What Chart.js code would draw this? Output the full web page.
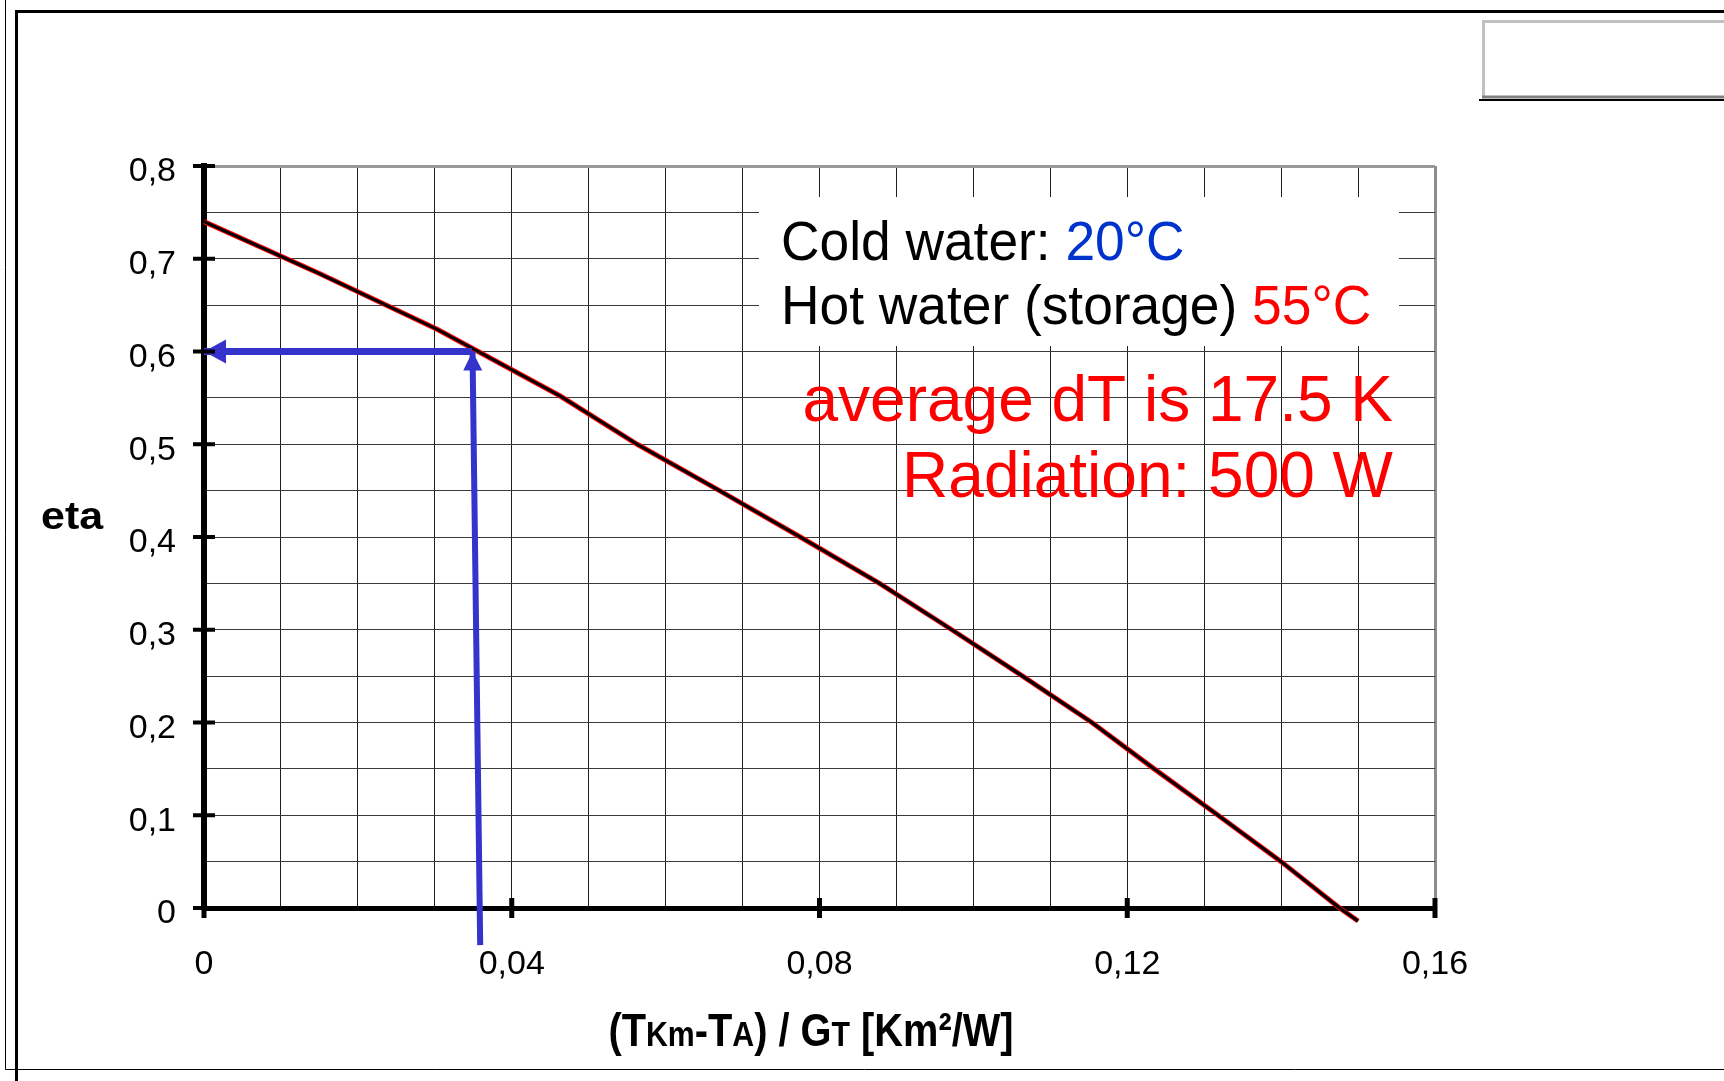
<!DOCTYPE html>
<html>
<head>
<meta charset="utf-8">
<title>eta</title>
<script src="https://cdn.jsdelivr.net/npm/chart.js@4.4.1/dist/chart.umd.min.js"></script>
<style>
    html, body { margin: 0; padding: 0; background: #fff; }
    canvas { display: block; }
</style>
</head>
<body>
<canvas id="etaChart" width="1724" height="1081" style="width:1724px;height:1081px"></canvas>
<script>
// tick labels (comma decimals as in the original)
const xTickLabels = ['0', '0,04', '0,08', '0,12', '0,16'];
const yTickLabels = ['0', '0,1', '0,2', '0,3', '0,4', '0,5', '0,6', '0,7', '0,8'];

// efficiency curve
const curveX   = [0, 0.015, 0.0303, 0.0463, 0.0563, 0.067, 0.0775, 0.0878, 0.0972, 0.1064, 0.1154, 0.1235, 0.1318, 0.14, 0.1476, 0.15];
const curveEta = [0.74, 0.684, 0.624, 0.552, 0.5, 0.45, 0.4, 0.35, 0.3, 0.25, 0.2, 0.15, 0.1, 0.05, 0, -0.014];

// blue reading arrows
const arrowUpX   = [0.0359, 0.0349];
const arrowUpY   = [-0.04, 0.6];
const arrowLeftX = [0.0348, 0];
const arrowLeftY = [0.6, 0.6];

const toPoints = (xs, ys) => xs.map((x, i) => ({ x: x, y: ys[i] }));

const BLUE = '#3434cc';

// draws a row of text pieces with different fonts / colours
function drawRuns(ctx, runs, x, y, align, scaleX) {
    ctx.save();
    let total = 0;
    runs.forEach(r => {
        ctx.font = r.font;
        r.w = ctx.measureText(r.text).width;
        total += r.w;
    });
    let start = x;
    if (align === 'right') start = x - total * scaleX;
    if (align === 'center') start = x - total * scaleX / 2;
    ctx.translate(start, y);
    ctx.scale(scaleX, 1);
    ctx.textBaseline = 'alphabetic';
    let cx = 0;
    runs.forEach(r => {
        ctx.font = r.font;
        ctx.fillStyle = r.color;
        ctx.fillText(r.text, cx, 0);
        cx += r.w;
    });
    ctx.restore();
}

// page frame and the half hidden box top right
const framePlugin = {
    id: 'frame',
    beforeDraw(chart) {
        const ctx = chart.ctx;
        ctx.save();
        ctx.fillStyle = '#fff';
        ctx.fillRect(0, 0, chart.width, chart.height);
        ctx.strokeStyle = '#000';
        ctx.lineWidth = 1;
        ctx.beginPath();
        ctx.moveTo(5.5, 0); ctx.lineTo(5.5, 1069.5); ctx.lineTo(chart.width, 1069.5);
        ctx.stroke();
        ctx.lineWidth = 3;
        ctx.beginPath();
        ctx.moveTo(16.5, 1081); ctx.lineTo(16.5, 11.5); ctx.lineTo(chart.width, 11.5);
        ctx.stroke();
        // box
        ctx.strokeStyle = '#c0c0c0';
        ctx.beginPath();
        ctx.moveTo(1483.5, 97); ctx.lineTo(1483.5, 21.5); ctx.lineTo(chart.width, 21.5);
        ctx.stroke();
        ctx.strokeStyle = '#808080';
        ctx.beginPath();
        ctx.moveTo(1482, 97); ctx.lineTo(chart.width, 97);
        ctx.stroke();
        ctx.strokeStyle = '#000';
        ctx.lineWidth = 2;
        ctx.beginPath();
        ctx.moveTo(1479, 100); ctx.lineTo(chart.width, 100);
        ctx.stroke();
        ctx.restore();
    }
};

// white note box, notes and axis titles
const notesPlugin = {
    id: 'notes',
    beforeDatasetsDraw(chart) {
        const ctx = chart.ctx;
        ctx.save();
        ctx.fillStyle = '#fff';
        ctx.fillRect(759, 197, 640, 149);
        ctx.restore();

        const black = '56px "Liberation Sans", Arial, sans-serif';
        drawRuns(ctx, [
            { text: 'Cold water: ', font: black, color: '#000' },
            { text: '20°C', font: black, color: '#0033cc' }
        ], 781, 260, 'left', 0.952);
        drawRuns(ctx, [
            { text: 'Hot water (storage) ', font: black, color: '#000' },
            { text: '55°C', font: black, color: '#ff0000' }
        ], 781, 324, 'left', 0.952);

        const red = '64px "Liberation Sans", Arial, sans-serif';
        drawRuns(ctx, [{ text: 'average dT is 17.5 K', font: red, color: '#ff0000' }], 1393, 421, 'right', 1);
        drawRuns(ctx, [{ text: 'Radiation: 500 W', font: red, color: '#ff0000' }], 1393, 497, 'right', 1);

        // axis titles
        drawRuns(ctx, [{ text: 'eta', font: 'bold 38px "Liberation Sans", Arial, sans-serif', color: '#000' }], 41, 529, 'left', 1.13);

        const big = 'bold 46px "Liberation Sans", Arial, sans-serif';
        const small = 'bold 35px "Liberation Sans", Arial, sans-serif';
        drawRuns(ctx, [
            { text: '(T', font: big, color: '#000' },
            { text: 'Km', font: small, color: '#000' },
            { text: '-T', font: big, color: '#000' },
            { text: 'A', font: small, color: '#000' },
            { text: ') / G', font: big, color: '#000' },
            { text: 'T', font: small, color: '#000' },
            { text: ' [Km²/W]', font: big, color: '#000' }
        ], 811, 1046, 'center', 0.865);
    },
    afterDraw(chart) {
        const ctx = chart.ctx;
        const xs = chart.scales.x, ys = chart.scales.y;
        const left = chart.chartArea.left, bottom = chart.chartArea.bottom;
        ctx.save();
        ctx.strokeStyle = '#000';
        ctx.lineWidth = 4;
        yTickLabels.forEach((lab, i) => {
            const py = ys.getPixelForValue(i * 0.1);
            ctx.beginPath();
            ctx.moveTo(left - 11, py); ctx.lineTo(left + 11, py);
            ctx.stroke();
        });
        ctx.lineWidth = 5;
        xTickLabels.forEach((lab, i) => {
            const px = xs.getPixelForValue(i * 0.04);
            ctx.beginPath();
            ctx.moveTo(px, bottom - 10); ctx.lineTo(px, bottom + 10);
            ctx.stroke();
        });
        ctx.restore();
    }
};

// arrow heads at the last point of flagged datasets
const arrowPlugin = {
    id: 'arrowHeads',
    afterDatasetsDraw(chart) {
        const ctx = chart.ctx;
        chart.data.datasets.forEach((ds, i) => {
            if (!ds.arrowHead) return;
            const pts = chart.getDatasetMeta(i).data;
            const a = pts[pts.length - 2], b = pts[pts.length - 1];
            const ang = Math.atan2(b.y - a.y, b.x - a.x);
            const len = ds.arrowHead.len, half = ds.arrowHead.width / 2;
            ctx.save();
            ctx.translate(b.x, b.y);
            ctx.rotate(ang);
            ctx.fillStyle = ds.borderColor;
            ctx.beginPath();
            ctx.moveTo(0, 0);
            ctx.lineTo(-len, -half);
            ctx.lineTo(-len, half);
            ctx.closePath();
            ctx.fill();
            ctx.restore();
        });
    }
};

const ctx = document.getElementById('etaChart').getContext('2d');
const etaChart = new Chart(ctx, {
    type: 'scatter',
    data: {
        datasets: [
            {
                data: toPoints(curveX, curveEta),
                showLine: true, borderColor: '#ff0000', borderWidth: 5,
                pointRadius: 0, clip: false, order: 4
            },
            {
                data: toPoints(curveX, curveEta),
                showLine: true, borderColor: '#000', borderWidth: 3,
                pointRadius: 0, clip: false, order: 3
            },
            {
                data: toPoints(arrowUpX, arrowUpY),
                showLine: true, borderColor: BLUE, borderWidth: 6,
                pointRadius: 0, clip: false, order: 2,
                arrowHead: { len: 19, width: 19 }
            },
            {
                data: toPoints(arrowLeftX, arrowLeftY),
                showLine: true, borderColor: BLUE, borderWidth: 7,
                pointRadius: 0, clip: false, order: 1,
                arrowHead: { len: 22, width: 24 }
            }
        ]
    },
    options: {
        responsive: false,
        animation: false,
        layout: { padding: { top: 166, right: 289, bottom: 0, left: 0 } },
        plugins: { legend: { display: false }, tooltip: { enabled: false } },
        scales: {
            x: {
                type: 'linear', min: 0, max: 0.16,
                afterFit: s => { s.height = 173; },
                border: { color: '#000', width: 5 },
                grid: {
                    drawTicks: false,
                    color: c => c.index === 16 ? '#8c8c8c' : '#1e1e1e',
                    lineWidth: c => c.index === 16 ? 3 : 1
                },
                ticks: {
                    stepSize: 0.01, autoSkip: false, maxRotation: 0, padding: 36,
                    color: '#000',
                    font: { family: '"Liberation Sans", Arial, sans-serif', size: 34 },
                    callback: (v, i) => i % 4 === 0 ? xTickLabels[i / 4] : ''
                }
            },
            y: {
                type: 'linear', min: 0, max: 0.8,
                afterFit: s => { s.width = 204; },
                border: { color: '#000', width: 6 },
                grid: {
                    drawTicks: false,
                    color: c => c.index === 16 ? '#9a9a9a' : '#3a3a3a',
                    lineWidth: c => c.index === 16 ? 3 : 1
                },
                ticks: {
                    stepSize: 0.05, autoSkip: false, padding: 28, labelOffset: 6,
                    color: '#000',
                    font: { family: '"Liberation Sans", Arial, sans-serif', size: 34 },
                    callback: (v, i) => i % 2 === 0 ? yTickLabels[i / 2] : ''
                }
            }
        }
    },
    plugins: [framePlugin, notesPlugin, arrowPlugin]
});
</script>
</body>
</html>
